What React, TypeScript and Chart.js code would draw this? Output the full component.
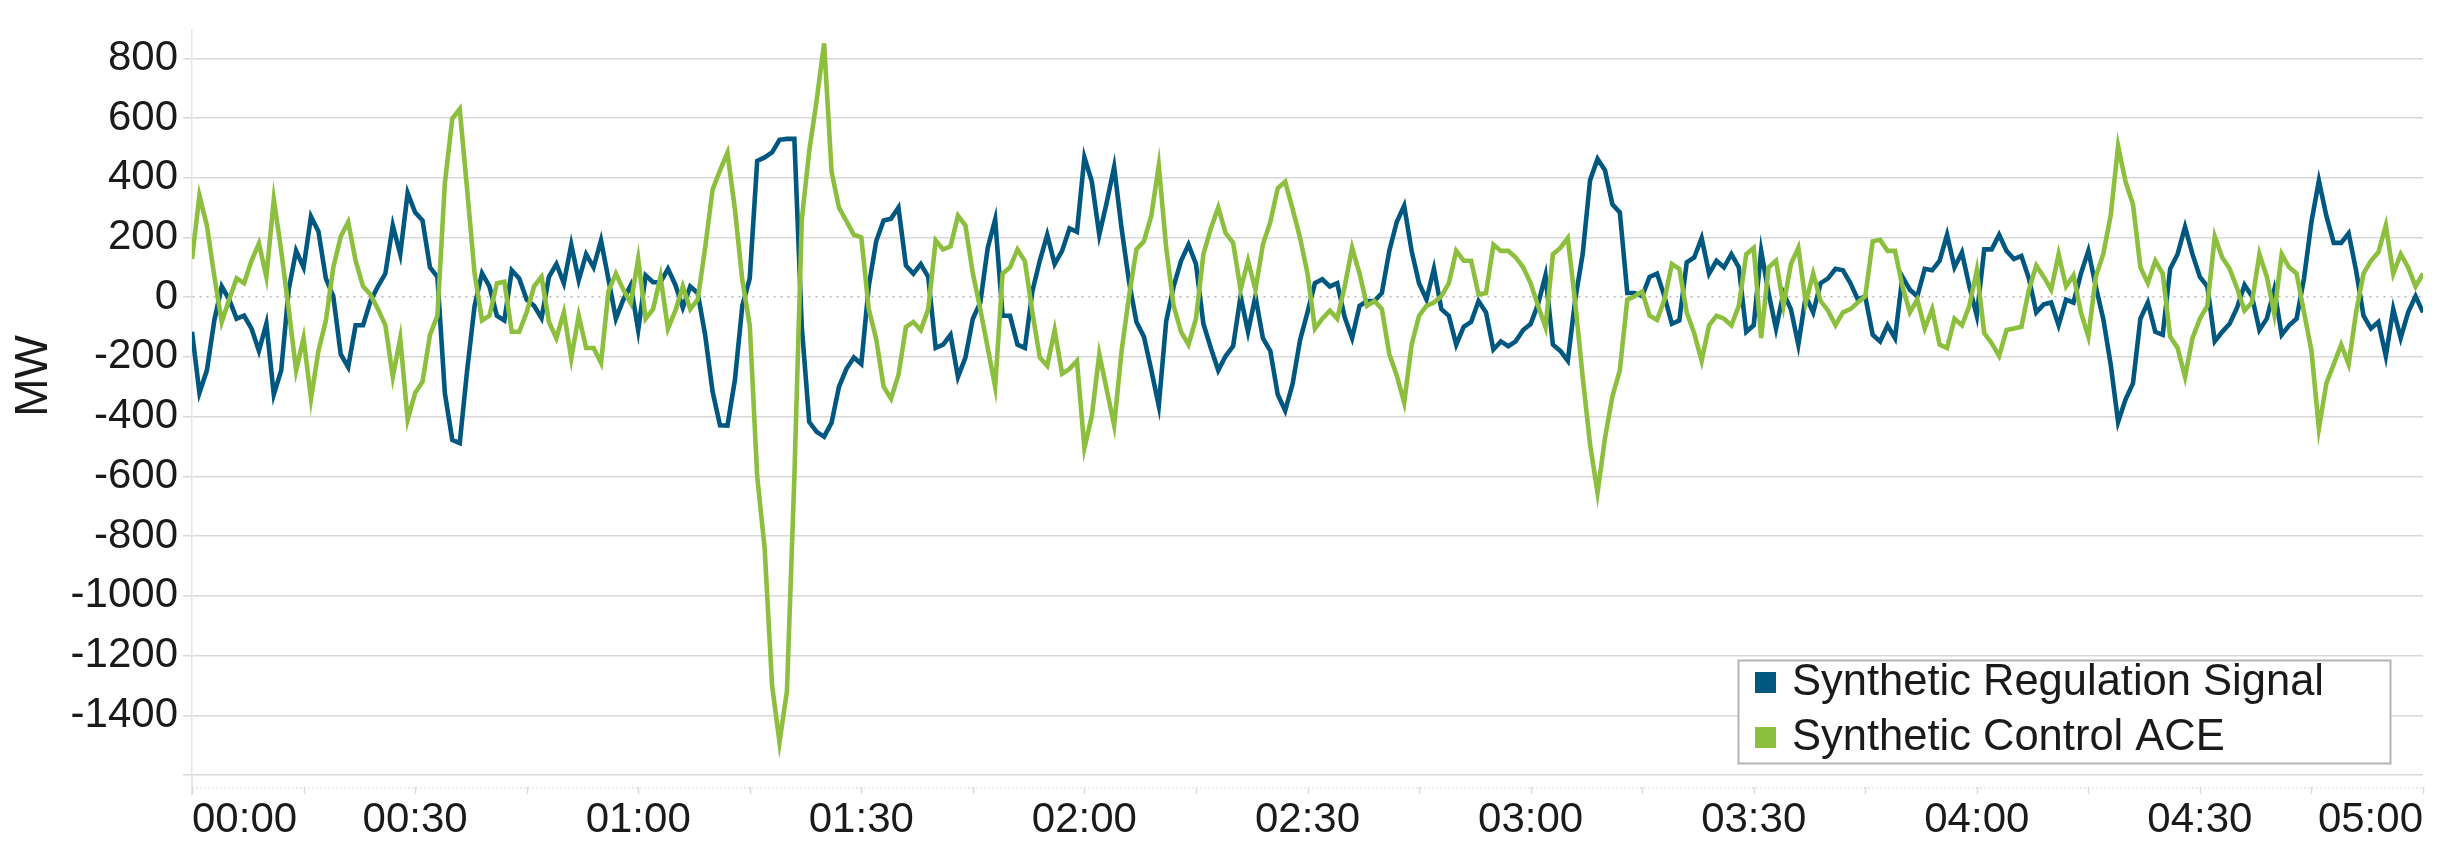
import React, { useEffect, useRef } from 'react';
import { Chart, registerables } from 'chart.js';

Chart.register(...registerables);

// Synthetic Regulation Signal (MW), one value per minute, split by hour
const REG_H0 = [
  -116, -320, -245, -78, 36, -8, -72, -62, -105, -180,
  -89, -326, -245, 25, 155, 100, 270, 220, 63, 3,
  -191, -234, -94, -94, -13, 36, 79, 240, 144, 349,
  284, 257, 100, 68, -321, -478, -489, -245, -29, 80,
  36, -62, -78, 90, 63, -8, -29, -70, 68, 111,
  47, 176, 57, 144, 100, 190, 60, -72, -8, 40,
];
const REG_H1 = [
  -110, 73, 50, 50, 95, 41, -35, 36, 14, -126,
  -316, -429, -430, -278, -29, 63, 456, 468, 485, 527,
  530, 530, -100, -418, -451, -467, -420, -300, -240, -202,
  -224, 36, 187, 257, 263, 300, 106, 79, 111, 68,
  -170, -159, -126, -267, -202, -72, -18, 165, 260, -62,
  -62, -159, -170, 19, 122, 209, 111, 155, 230, 219,
];
const REG_H2 = [
  468, 387, 209, 317, 436, 230, 52, -83, -132, -245,
  -364, -80, 36, 122, 176, 111, -89, -170, -245, -197,
  -164, 3, -116, 3, -137, -180, -326, -380, -290, -143,
  -51, 47, 60, 36, 47, -67, -137, -29, -13, -13,
  14, 155, 252, 306, 155, 47, -8, 95, -40, -62,
  -159, -99, -83, -13, -51, -175, -148, -164, -148, -110,
];
const REG_H3 = [
  -90, -24, 73, -159, -180, -213, -8, 144, 392, 463,
  425, 311, 284, 14, 14, 3, 68, 79, 3, -89,
  -78, 117, 133, 198, 79, 122, 100, 144, 100, -116,
  -94, 155, 14, -105, 14, -40, -159, 3, -51, 47,
  63, 95, 90, 47, -8, 3, -126, -148, -94, -137,
  68, 25, 3, 95, 90, 122, 209, 100, 150, 36,
];
const REG_H4 = [
  -62, 160, 160, 209, 155, 128, 138, 63, -51, -24,
  -18, -94, -8, -18, 79, 155, 36, -72, -224, -418,
  -343, -289, -72, -18, -116, -126, 95, 144, 235, 144,
  68, 36, -148, -116, -89, -35, 41, 3, -110, -72,
  25, -126, -94, -72, 63, 252, 390, 273, 182, 182,
  214, 90, -62, -105, -83, -197, -40, -137, -51, 3,
  -51,
];

// Synthetic Control ACE (MW), one value per minute, split by hour
const ACE_H0 = [
  128, 340, 240, 70, -83, -8, 63, 47, 122, 180,
  68, 328, 155, -40, -245, -137, -340, -180, -78, 100,
  203, 252, 122, 36, 9, -40, -94, -267, -137, -410,
  -321, -283, -126, -62, 381, 598, 630, 360, 79, -78,
  -62, 47, 52, -116, -116, -51, 36, 68, -83, -137,
  -51, -205, -62, -170, -170, -220, 20, 79, 25, -20,
];
const ACE_H1 = [
  128, -72, -40, 68, -105, -45, 36, -40, -8, 165,
  360, 425, 484, 295, 57, -94, -600, -840, -1300, -1490,
  -1320, -600, 260, 490, 660, 850, 420, 300, 255, 209,
  200, -40, -140, -300, -340, -260, -100, -83, -110, -40,
  190, 160, 170, 273, 240, 79, -40, -170, -300, 79,
  100, 160, 120, -50, -202, -230, -110, -256, -240, -213,
];
const ACE_H2 = [
  -505, -397, -191, -310, -429, -180, 3, 160, 187, 273,
  441, 165, -29, -116, -159, -72, 144, 230, 300, 214,
  182, 25, 122, 25, 176, 252, 365, 387, 295, 198,
  79, -105, -72, -45, -72, 36, 165, 79, -29, -13,
  -40, -191, -262, -353, -159, -62, -29, -18, 3, 47,
  155, 122, 122, 9, 14, 176, 155, 155, 133, 100,
];
const ACE_H3 = [
  47, -29, -100, 144, 165, 198, -18, -267, -494, -655,
  -472, -332, -245, -8, 3, 19, -62, -76, -8, 111,
  95, -51, -121, -213, -94, -62, -72, -94, -29, 144,
  165, -137, 100, 122, -29, 111, 165, -18, 79, -13,
  -45, -94, -51, -40, -18, 3, 187, 192, 155, 155,
  36, -51, -8, -105, -40, -159, -170, -72, -94, -29,
];
const ACE_H4 = [
  90, -120, -154, -197, -110, -105, -99, 25, 106, 68,
  25, 144, 36, 73, -51, -132, 68, 144, 273, 506,
  387, 311, 100, 47, 122, 79, -132, -170, -267, -137,
  -72, -29, 203, 133, 95, 30, -45, -18, 144, 68,
  -56, 144, 100, 79, -51, -180, -440, -289, -224, -159,
  -224, -51, 79, 122, 150, 240, 79, 144, 100, 36,
  79,
];

const SERIES_NAMES = ['Synthetic Regulation Signal', 'Synthetic Control ACE'];
const SERIES_COLORS = ['#00577f', '#8dbf3f'];
const Y_TICKS = [-1600, -1400, -1200, -1000, -800, -600, -400, -200, 0, 200, 400, 600, 800];
const X_TICK_MINUTES = [0, 15, 30, 45, 60, 75, 90, 105, 120, 135, 150, 165, 180, 195, 210, 225, 240, 255, 270, 285, 300];
const X_TICK_LABELS = ['00:00', '00:30', '01:00', '01:30', '02:00', '02:30', '03:00', '03:30', '04:00', '04:30', '05:00'];
const Y_TITLE = 'MW';

const FONT = "'Liberation Sans', Arial, sans-serif";
const TEXT_COLOR = '#1a1a1a';
const GRID_COLOR = '#d9d9d9';

export default function App() {
  const ref = useRef<HTMLCanvasElement | null>(null);

  useEffect(() => {
    const canvas = ref.current;
    if (!canvas) return;
    const reg = [...REG_H0, ...REG_H1, ...REG_H2, ...REG_H3, ...REG_H4];
    const ace = [...ACE_H0, ...ACE_H1, ...ACE_H2, ...ACE_H3, ...ACE_H4];
    const regPts = reg.map((v, i) => ({ x: i, y: v }));
    const acePts = ace.map((v, i) => ({ x: i, y: v }));

    const overlay = {
      id: 'overlay',
      afterDraw(chart: any) {
        const ctx = chart.ctx as CanvasRenderingContext2D;
        const area = chart.chartArea;
        const xs = chart.scales.x;

        // Axis tick row below the plot
        ctx.save();
        ctx.strokeStyle = '#e4e4e4';
        ctx.lineWidth = 2;
        ctx.setLineDash([1.5, 2.5]);
        ctx.beginPath();
        ctx.moveTo(area.left, area.bottom + 13);
        ctx.lineTo(area.right, area.bottom + 13);
        ctx.stroke();
        ctx.setLineDash([]);
        ctx.strokeStyle = '#dcdcdc';
        ctx.lineWidth = 1.5;
        ctx.beginPath();
        for (const m of X_TICK_MINUTES) {
          const px = Math.round(xs.getPixelForValue(m)) + 0.5;
          ctx.moveTo(px, area.bottom + 12);
          ctx.lineTo(px, area.bottom + 19);
        }
        ctx.moveTo(area.left, area.bottom);
        ctx.lineTo(area.left, area.bottom + 20);
        ctx.stroke();
        ctx.restore();

        // Y axis title
        ctx.save();
        ctx.fillStyle = TEXT_COLOR;
        ctx.font = `46px ${FONT}`;
        ctx.textAlign = 'center';
        ctx.textBaseline = 'middle';
        ctx.translate(34, 376);
        ctx.rotate(-Math.PI / 2);
        ctx.fillText(Y_TITLE, 0, 0);
        ctx.restore();

        // Legend box
        const bx = 1738.5, by = 660.5, bw = 652, bh = 103;
        ctx.save();
        ctx.fillStyle = '#ffffff';
        ctx.fillRect(bx, by, bw, bh);
        ctx.strokeStyle = '#b4b4b4';
        ctx.lineWidth = 2;
        ctx.strokeRect(bx, by, bw, bh);
        ctx.font = `43.5px ${FONT}`;
        ctx.textAlign = 'left';
        ctx.textBaseline = 'middle';
        const rows = [683, 738];
        for (let i = 0; i < SERIES_NAMES.length; i++) {
          ctx.fillStyle = SERIES_COLORS[i];
          ctx.fillRect(1755, rows[i] - 11, 21, 21);
          ctx.fillStyle = TEXT_COLOR;
          ctx.fillText(SERIES_NAMES[i], 1792, rows[i]);
        }
        ctx.restore();
      },
    };

    const chart = new Chart(canvas, {
      type: 'line',
      data: {
        datasets: [
          {
            label: SERIES_NAMES[0],
            data: regPts,
            borderColor: SERIES_COLORS[0],
            backgroundColor: SERIES_COLORS[0],
            borderWidth: 4.6,
            pointRadius: 0,
            tension: 0,
            order: 2,
          },
          {
            label: SERIES_NAMES[1],
            data: acePts,
            borderColor: SERIES_COLORS[1],
            backgroundColor: SERIES_COLORS[1],
            borderWidth: 4.6,
            pointRadius: 0,
            tension: 0,
            order: 1,
          },
        ],
      },
      options: {
        responsive: false,
        animation: false,
        devicePixelRatio: 1,
        layout: { padding: { left: 0, right: 19, top: 0, bottom: 0 } },
        plugins: {
          legend: { display: false },
          tooltip: { enabled: false },
        },
        scales: {
          x: {
            type: 'linear',
            min: 0,
            max: 300,
            afterBuildTicks: (scale: any) => {
              scale.ticks = X_TICK_MINUTES.map((v) => ({ value: v }));
            },
            afterFit: (scale: any) => {
              scale.height = 67;
            },
            grid: {
              drawOnChartArea: false,
              drawTicks: false,
            },
            border: { display: false },
            ticks: {
              align: 'inner',
              autoSkip: false,
              maxRotation: 0,
              minRotation: 0,
              padding: 20,
              color: TEXT_COLOR,
              font: { family: FONT, size: 42 },
              callback: (v: any) => (Number(v) % 30 === 0 ? X_TICK_LABELS[Number(v) / 30] : ''),
            },
          },
          y: {
            type: 'linear',
            min: -1600,
            max: 894,
            afterBuildTicks: (scale: any) => {
              scale.ticks = Y_TICKS.map((v) => ({ value: v }));
            },
            afterFit: (scale: any) => {
              scale.width = 192;
            },
            grid: {
              color: (c: any) => (c.tick && c.tick.value === 0 ? '#b8b8b8' : GRID_COLOR),
              lineWidth: 1.5,
              drawTicks: true,
              tickLength: 9,
              tickColor: GRID_COLOR,
            },
            border: {
              display: true,
              color: '#e6e6e6',
              width: 1.5,
              dash: (c: any) => (c.tick && c.tick.value === 0 ? [2, 5] : []),
            },
            ticks: {
              padding: 5,
              color: TEXT_COLOR,
              font: { family: FONT, size: 42 },
              callback: (v: any) => (Number(v) === -1600 ? '' : String(v)),
            },
          },
        },
      },
      plugins: [overlay],
    } as any);

    return () => chart.destroy();
  }, []);

  return (
    <div style={{ position: 'absolute', left: 0, top: 0, width: 2443, height: 842, background: '#ffffff' }}>
      <canvas ref={ref} width={2443} height={842} style={{ display: 'block', width: 2443, height: 842 }} />
    </div>
  );
}
